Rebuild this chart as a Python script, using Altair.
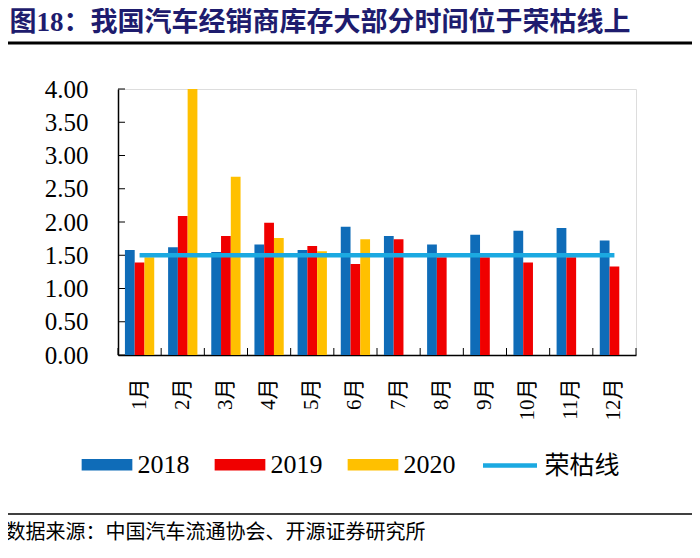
import altair as alt
import pandas as pd

months = ["1月", "2月", "3月", "4月", "5月", "6月", "7月", "8月", "9月", "10月", "11月", "12月"]
years = ["2018", "2019", "2020"]
v2018 = [1.58, 1.62, 1.55, 1.66, 1.58, 1.93, 1.79, 1.66, 1.81, 1.87, 1.91, 1.72]
v2019 = [1.39, 2.09, 1.79, 1.99, 1.64, 1.37, 1.74, 1.47, 1.47, 1.39, 1.47, 1.33]
v2020 = [1.47, 4.00, 2.68, 1.76, 1.56, 1.74]
threshold = [1.5] * 12
line_name = "荣枯线"
y_ticks = [0.0, 0.5, 1.0, 1.5, 2.0, 2.5, 3.0, 3.5, 4.0]

title_text = "图18：我国汽车经销商库存大部分时间位于荣枯线上"
source_text = "数据来源：中国汽车流通协会、开源证券研究所"

colors = ["#0F6CB8", "#F00000", "#FFC000"]
line_color = "#1BA9E1"

rows = []
for y, vals in zip(years, [v2018, v2019, v2020]):
    for m, v in zip(months, vals):
        rows.append({"month": m, "year": y, "value": v})
bars_df = pd.DataFrame(rows)
line_df = pd.DataFrame({"month": months, "value": threshold, "name": [line_name] * 12})
yt_df = pd.DataFrame({"v": y_ticks})
mt_df = pd.DataFrame({"month": months})

W, H = 518, 266
SERIF = "Liberation Serif, Noto Sans CJK SC"
CJK = "Noto Sans CJK SC"

x_axis = alt.Axis(
    title=None, labelAngle=270, labelFont=SERIF, labelFontSize=21, labelColor="black",
    ticks=False, labelPadding=23, domainColor="black", domainWidth=1.5, grid=False,
)
y_axis = alt.Axis(
    title=None, values=y_ticks, format=".2f", labelFont="Liberation Serif", labelFontSize=25,
    labelColor="black", ticks=False, labelPadding=30, domainColor="black", domainWidth=1.5, grid=False,
)

def X(**kw):
    return alt.X("month:N", sort=months, scale=alt.Scale(paddingInner=0, paddingOuter=0), axis=x_axis, **kw)

Y = alt.Y("value:Q", scale=alt.Scale(domain=[0, 4], nice=False, zero=True), axis=y_axis)

bars = alt.Chart(bars_df).mark_bar().encode(
    x=X(),
    xOffset=alt.XOffset("year:N", sort=years, scale=alt.Scale(paddingInner=0, paddingOuter=0.71)),
    y=Y,
    color=alt.Color(
        "year:N",
        scale=alt.Scale(domain=years, range=colors),
        legend=alt.Legend(
            title=None, orient="none", direction="horizontal", legendX=-36.5, legendY=350,
            symbolType="M-1,-0.231H1V0.231H-1Z", symbolSize=2570, symbolStrokeWidth=0,
            labelFont="Liberation Serif", labelFontSize=26, labelColor="black",
            labelOffset=5, columnPadding=25, padding=0,
        ),
    ),
)

line = alt.Chart(line_df).mark_line(strokeWidth=4.5).encode(
    x=X(),
    y=alt.Y("value:Q", scale=alt.Scale(domain=[0, 4], nice=False), axis=y_axis),
    color=alt.Color(
        "name:N",
        scale=alt.Scale(domain=[line_name], range=[line_color]),
        legend=alt.Legend(
            title=None, orient="none", direction="horizontal", legendX=362.5, legendY=347,
            symbolType="stroke", symbolSize=2916, symbolStrokeWidth=4.5,
            labelFont=CJK, labelFontSize=25, labelColor="black", labelOffset=5, padding=0,
        ),
    ),
)

yticks = alt.Chart(yt_df).mark_rule(color="black", strokeWidth=1).encode(
    y=alt.Y("v:Q", scale=alt.Scale(domain=[0, 4], nice=False), axis=y_axis),
    x=alt.value(0), x2=alt.value(7),
)

xticks = alt.Chart(mt_df).mark_rule(color="black", strokeWidth=1).encode(
    x=X(bandPosition=0),
    y=alt.value(H - 7), y2=alt.value(H),
)
xtick_end = alt.Chart(pd.DataFrame({"a": [0]})).mark_rule(color="black", strokeWidth=1).encode(
    x=alt.value(W), y=alt.value(H - 7), y2=alt.value(H),
)

one = pd.DataFrame({"t": [title_text]})
title = alt.Chart(one).mark_text(
    align="left", baseline="middle", fontSize=27, fontWeight="bold", color="#1E1C6E", font=SERIF,
).encode(text="t:N", x=alt.value(-108.5), y=alt.value(-66))

top_rule = alt.Chart(pd.DataFrame({"a": [0]})).mark_rule(color="black", strokeWidth=3).encode(
    x=alt.value(-112.5), x2=alt.value(576), y=alt.value(-46),
)
bottom_rule = alt.Chart(pd.DataFrame({"a": [0]})).mark_rule(color="black", strokeWidth=1.5).encode(
    x=alt.value(-112.5), x2=alt.value(576), y=alt.value(425),
)
source = alt.Chart(pd.DataFrame({"t": [source_text]})).mark_text(
    align="left", baseline="alphabetic", fontSize=20, color="black", font=CJK,
).encode(text="t:N", x=alt.value(-112.5), y=alt.value(450))

chart = alt.layer(
    bars, line, yticks, xticks, xtick_end, title, top_rule, bottom_rule, source
).resolve_scale(color="independent").properties(
    width=W, height=H,
    autosize=alt.AutoSizeParams(type="none"),
    padding={"left": 110, "top": 81, "right": 56, "bottom": 195},
).configure_view(stroke=None).configure(background="white")

chart.save("out.html", embed_options={"renderer": "svg", "actions": False})
